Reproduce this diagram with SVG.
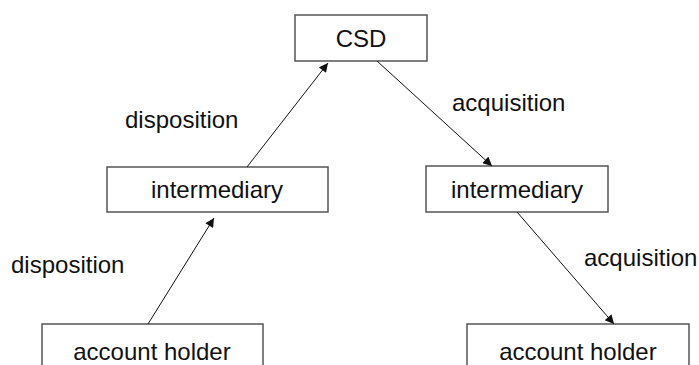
<svg xmlns="http://www.w3.org/2000/svg" width="699" height="365" viewBox="0 0 699 365">
<style>
.box{fill:#fff;stroke:#555;stroke-width:1.5}
.t{font-family:"Liberation Sans",Arial,sans-serif;font-size:24px;fill:#111;text-anchor:middle}
.l{font-family:"Liberation Sans",Arial,sans-serif;font-size:24px;fill:#111}
.c{stroke:#111;stroke-width:1;fill:none;marker-end:url(#ah)}
</style>
<defs>
<marker id="ah" viewBox="0 0 10 10" refX="10" refY="5" markerWidth="11" markerHeight="9" markerUnits="userSpaceOnUse" orient="auto">
<path d="M0,0 L10,5 L0,10 z" fill="#111"/>
</marker>
</defs>
<rect width="699" height="365" fill="#fff"/>
<g id="csd"><rect class="box" x="295" y="15" width="132" height="46"/><text class="t" x="361" y="47">CSD</text></g>
<g id="int-left"><rect class="box" x="107" y="167" width="221" height="45"/><text class="t" x="217" y="198">intermediary</text></g>
<g id="int-right"><rect class="box" x="426" y="166" width="182" height="46"/><text class="t" x="517" y="198">intermediary</text></g>
<g id="ah-left"><rect class="box" x="42" y="324" width="221" height="50"/><text class="t" x="152" y="360">account holder</text></g>
<g id="ah-right"><rect class="box" x="467" y="324" width="222" height="50"/><text class="t" x="578" y="360">account holder</text></g>
<g id="connectors">
<line class="c" x1="148" y1="324" x2="214" y2="218"/>
<line class="c" x1="247" y1="167" x2="328" y2="63"/>
<line class="c" x1="377" y1="61" x2="492" y2="166"/>
<line class="c" x1="517" y1="212" x2="614" y2="324"/>
</g>
<g id="labels">
<text class="l" x="125" y="128">disposition</text>
<text class="l" x="11" y="273">disposition</text>
<text class="l" x="452" y="111">acquisition</text>
<text class="l" x="584" y="266">acquisition</text>
</g>
</svg>
